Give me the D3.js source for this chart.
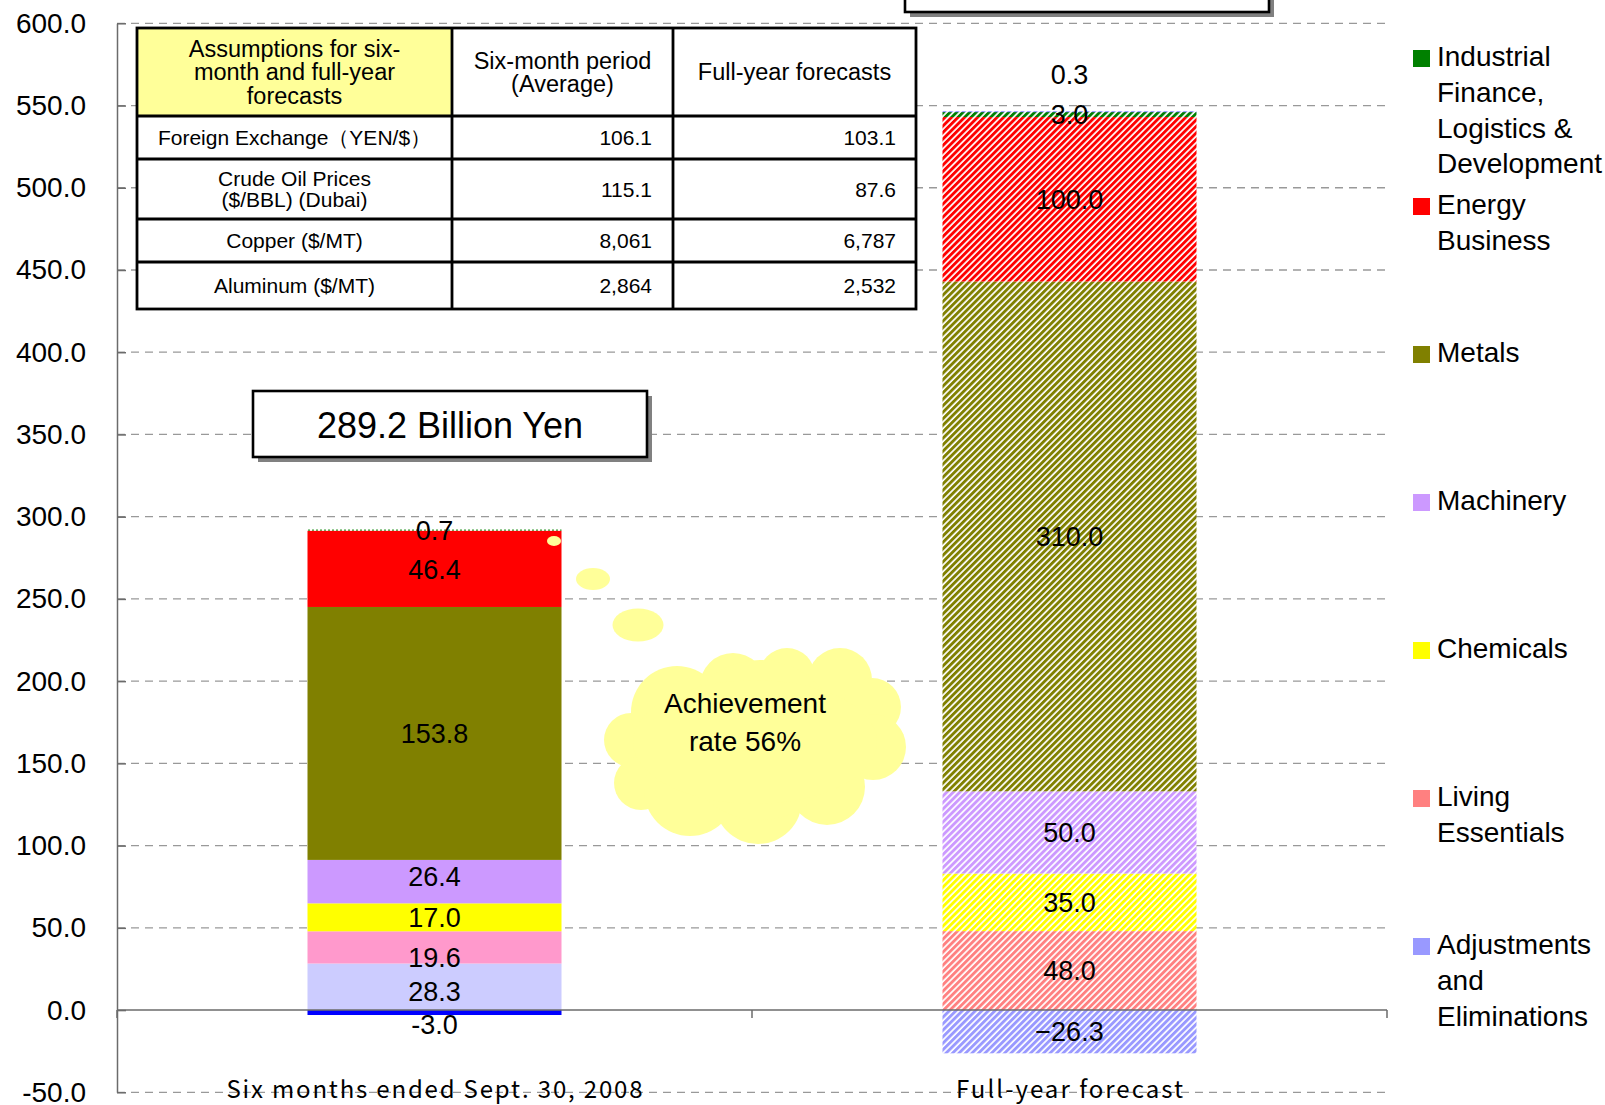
<!DOCTYPE html>
<html>
<head>
<meta charset="utf-8">
<script src="https://cdn.jsdelivr.net/npm/d3@7"></script>
<style>
  body { margin: 0; background: #fff; }
  svg { display: block; font-family: "Liberation Sans", Arial, sans-serif; }
</style>
</head>
<body>
<script>
// DATA
const categories = ['Six months ended Sept. 30, 2008', 'Full-year forecast']
const segments = ['Adjustments and Eliminations', 'Living Essentials', 'Chemicals', 'Machinery',
  'Metals', 'Energy Business', 'Industrial Finance, Logistics & Development', 'Other']
const sixMonths = [28.3, 19.6, 17.0, 26.4, 153.8, 46.4, 0.7, -3.0]
const fullYear = [-26.3, 48.0, 35.0, 50.0, 310.0, 100.0, 3.0, 0.3]
const yTicks = [-50, 0, 50, 100, 150, 200, 250, 300, 350, 400, 450, 500, 550, 600]

// legend, top to bottom (index into segments)
const legendIndex = [6, 5, 4, 3, 2, 1, 0]
const legendLines = [['Industrial', 'Finance,', 'Logistics &', 'Development'], ['Energy', 'Business'],
  ['Metals'], ['Machinery'], ['Chemicals'], ['Living', 'Essentials'], ['Adjustments', 'and', 'Eliminations']]

// assumptions table
const tableHead = [['Assumptions for six-', 'month and full-year', 'forecasts'], ['Six-month period', '(Average)'], ['Full-year forecasts']]
const tableItems = [['Foreign Exchange（YEN/$）'], ['Crude Oil Prices', '($/BBL) (Dubai)'], ['Copper ($/MT)'], ['Aluminum ($/MT)']]
const tableSix = ['106.1', '115.1', '8,061', '2,864']
const tableFull = ['103.1', '87.6', '6,787', '2,532']

// colours
const fullColors = ['#9999FF', '#FF8080', '#FFFF00', '#CC99FF', '#808000', '#FF0000', '#008000', '#0000FF']
const sixColors = ['#CCCCFF', '#FF99CC', '#FFFF00', '#CC99FF', '#808000', '#FF0000', '#008000', '#0000FF']

const w = 1605
const h = 1105
const plotLeft = 117, plotRight = 1387, plotTop = 23.3, plotBottom = 1092.3

const svg = d3.select('body').append('svg').attr('width', w).attr('height', h)
const defs = svg.append('defs')

// hatch patterns for the forecast bar
fullColors.forEach((c, i) => {
  const p = defs.append('pattern')
    .attr('id', 'hatch' + i)
    .attr('patternUnits', 'userSpaceOnUse')
    .attr('width', 4.6).attr('height', 10)
    .attr('patternTransform', 'rotate(45)')
  p.append('rect').attr('width', 4.6).attr('height', 10).attr('fill', '#fff')
  p.append('rect').attr('width', 2.9).attr('height', 10).attr('fill', c)
})
const dots = defs.append('pattern').attr('id', 'dots').attr('patternUnits', 'userSpaceOnUse')
  .attr('width', 4).attr('height', 2)
dots.append('rect').attr('width', 4).attr('height', 2).attr('fill', '#fff')
dots.append('rect').attr('width', 2).attr('height', 2).attr('fill', '#2a9a2a')

const fmt = d3.formatLocale({ decimal: '.', thousands: ',', grouping: [3], currency: ['', ''], minus: '-' }).format('.1f')

// Scales
const y = d3.scaleLinear().domain([-50, 600]).range([plotBottom, plotTop])
const x = d3.scaleBand().domain(categories).range([plotLeft, plotRight]).paddingInner(0.6).paddingOuter(0.3)

// gridlines
svg.append('g').selectAll('line')
  .data(yTicks.filter(d => d !== 0))
  .enter().append('line')
  .attr('x1', plotLeft).attr('x2', plotRight)
  .attr('y1', d => y(d)).attr('y2', d => y(d))
  .attr('stroke', '#999').attr('stroke-width', 1.3).attr('stroke-dasharray', '8,6')

// Stack
const rows = categories.map((c, i) => {
  const r = { cat: c }
  segments.forEach((s, j) => { r[s] = [sixMonths, fullYear][i][j] })
  return r
})
const stacked = d3.stack().keys(segments).offset(d3.stackOffsetDiverging)(rows)

const cells = []
stacked.forEach((layer, j) => {
  layer.forEach((d, i) => {
    cells.push({ cat: d.data.cat, ci: i, si: j, y0: d[0], y1: d[1], value: d.data[segments[j]] })
  })
})

svg.append('g').selectAll('rect')
  .data(cells)
  .enter().append('rect')
  .attr('x', d => x(d.cat))
  .attr('width', x.bandwidth())
  .attr('y', d => y(Math.max(d.y0, d.y1)))
  .attr('height', d => Math.abs(y(d.y0) - y(d.y1)))
  .attr('fill', d => d.ci === 1 ? 'url(#hatch' + d.si + ')' : (d.si === 6 ? 'url(#dots)' : sixColors[d.si]))

// axes
const yAxis = svg.append('g')
  .attr('transform', 'translate(' + plotLeft + ',0)')
  .call(d3.axisLeft(y).tickValues(yTicks).tickFormat(fmt).tickSizeInner(-9).tickSizeOuter(0).tickPadding(31))
yAxis.select('.domain').attr('stroke', '#6b6b6b').attr('stroke-width', 1.5)
yAxis.selectAll('.tick line').attr('stroke', '#6b6b6b').attr('stroke-width', 1.5)
yAxis.selectAll('.tick text').attr('font-size', '28px').attr('font-family', 'Liberation Sans, Arial, sans-serif').attr('fill', '#000')

svg.append('line')
  .attr('x1', plotLeft).attr('x2', plotRight)
  .attr('y1', y(0)).attr('y2', y(0))
  .attr('stroke', '#6b6b6b').attr('stroke-width', 1.5)
svg.append('g').selectAll('line')
  .data([0, 1, 2])
  .enter().append('line')
  .attr('x1', d => plotLeft + d * x.step()).attr('x2', d => plotLeft + d * x.step())
  .attr('y1', y(0)).attr('y2', y(0) + 8)
  .attr('stroke', '#6b6b6b').attr('stroke-width', 1.5)

// category labels
const catWidth = [416, 227]
svg.append('g').selectAll('text')
  .data(categories)
  .enter().append('text')
  .attr('x', d => x(d) + x.bandwidth() / 2)
  .attr('y', 1098)
  .attr('text-anchor', 'middle')
  .attr('font-family', '"Noto Sans CJK JP", sans-serif')
  .attr('font-size', '24px')
  .attr('textLength', (d, i) => catWidth[i])
  .attr('lengthAdjust', 'spacing')
  .text(d => d)

// data labels (a few were moved off-centre in the original)
const nudge = { '0|7': 12, '0|1': 10, '1|7': -38, '0|3': -5, '0|0': 4 }
svg.append('g').selectAll('text')
  .data(cells)
  .enter().append('text')
  .attr('x', d => x(d.cat) + x.bandwidth() / 2)
  .attr('y', d => y((d.y0 + d.y1) / 2) + (nudge[d.ci + '|' + d.si] || 0))
  .attr('dy', '0.36em')
  .attr('text-anchor', 'middle')
  .attr('font-size', '27px')
  .text(d => d.ci === 1 ? d3.format('.1f')(d.value) : fmt(d.value))

// Legend
const legend = svg.append('g').attr('id', 'legend')
legendIndex.forEach((si, k) => {
  const cy = 58.5 + k * 148
  legend.append('rect')
    .attr('x', 1413).attr('y', cy - 8.5)
    .attr('width', 17).attr('height', 17)
    .attr('fill', fullColors[si])
  legend.append('text')
    .attr('font-size', '28px')
    .selectAll('tspan')
    .data(legendLines[k])
    .enter().append('tspan')
    .attr('x', 1437)
    .attr('y', (d, i) => cy + 7.5 + i * 35.8)
    .text(d => d)
})

// Assumptions table
const colX = [137, 452, 673, 916]
const rowY = [28, 116, 159, 219, 262, 309]
const table = svg.append('g')
table.append('rect')
  .attr('x', colX[0]).attr('y', rowY[0])
  .attr('width', colX[3] - colX[0]).attr('height', rowY[5] - rowY[0])
  .attr('fill', '#fff')
table.append('rect')
  .attr('x', colX[0]).attr('y', rowY[0])
  .attr('width', colX[1] - colX[0]).attr('height', rowY[1] - rowY[0])
  .attr('fill', '#FFFF99')
table.append('rect')
  .attr('x', colX[0]).attr('y', rowY[0])
  .attr('width', colX[3] - colX[0]).attr('height', rowY[5] - rowY[0])
  .attr('fill', 'none').attr('stroke', '#000').attr('stroke-width', 2.8)
rowY.slice(1, 5).forEach(yy => {
  table.append('line').attr('x1', colX[0]).attr('x2', colX[3]).attr('y1', yy).attr('y2', yy)
    .attr('stroke', '#000').attr('stroke-width', 2.8)
})
colX.slice(1, 3).forEach(xx => {
  table.append('line').attr('x1', xx).attr('x2', xx).attr('y1', rowY[0]).attr('y2', rowY[5])
    .attr('stroke', '#000').attr('stroke-width', 2.8)
})

function cellText(lines, cx, cy, size, lh, anchor) {
  const t = table.append('text').attr('font-size', size + 'px').attr('text-anchor', anchor)
  lines.forEach((l, i) => {
    t.append('tspan')
      .attr('x', cx)
      .attr('y', cy + (i - (lines.length - 1) / 2) * lh)
      .attr('dy', '0.36em')
      .text(l)
  })
}
tableHead.forEach((lines, i) => {
  cellText(lines, (colX[i] + colX[i + 1]) / 2, (rowY[0] + rowY[1]) / 2, 23.5, 23.3, 'middle')
})
tableItems.forEach((lines, r) => {
  const cy = (rowY[r + 1] + rowY[r + 2]) / 2
  cellText(lines, (colX[0] + colX[1]) / 2, cy, 21, 21, 'middle')
  cellText([tableSix[r]], colX[2] - 21, cy, 21, 21, 'end')
  cellText([tableFull[r]], colX[3] - 20, cy, 21, 21, 'end')
})

// Total boxes
function box(x0, y0, bw, bh) {
  svg.append('rect').attr('x', x0 + 5).attr('y', y0 + 5).attr('width', bw).attr('height', bh).attr('fill', '#808080')
  svg.append('rect').attr('x', x0).attr('y', y0).attr('width', bw).attr('height', bh)
    .attr('fill', '#fff').attr('stroke', '#000').attr('stroke-width', 2.6)
}
box(253, 391, 394, 66)
box(905, -50, 364, 62)
svg.append('text')
  .attr('x', 450).attr('y', 425)
  .attr('dy', '0.36em')
  .attr('text-anchor', 'middle')
  .attr('font-size', '36px')
  .text(fmt(d3.sum(sixMonths)) + ' Billion Yen')

// Thought cloud
const cloud = svg.append('g').attr('fill', '#FFFF99')
const bubbles = [[554, 541, 7, 5], [593, 579, 17, 11], [638, 625, 25.5, 16.5]]
bubbles.forEach(b => cloud.append('ellipse').attr('cx', b[0]).attr('cy', b[1]).attr('rx', b[2]).attr('ry', b[3]))
const puffs = [[631, 740, 27], [641, 783, 27], [677, 712, 46], [733, 686, 33], [787, 676, 28], [840, 680, 32],
  [872, 707, 29], [873, 747, 33], [827, 787, 38], [758, 800, 44], [690, 790, 46], [760, 740, 80]]
puffs.forEach(p => cloud.append('circle').attr('cx', p[0]).attr('cy', p[1]).attr('r', p[2]))
cloud.append('ellipse').attr('cx', 755).attr('cy', 742).attr('rx', 122).attr('ry', 62)
const rate = d3.sum(sixMonths) / d3.sum(fullYear)
svg.append('text')
  .attr('text-anchor', 'middle')
  .attr('font-size', '28px')
  .selectAll('tspan')
  .data(['Achievement', 'rate ' + d3.format('.0%')(rate)])
  .enter().append('tspan')
  .attr('x', 745)
  .attr('y', (d, i) => 703 + i * 38)
  .attr('dy', '0.36em')
  .text(d => d)
</script>
</body>
</html>
